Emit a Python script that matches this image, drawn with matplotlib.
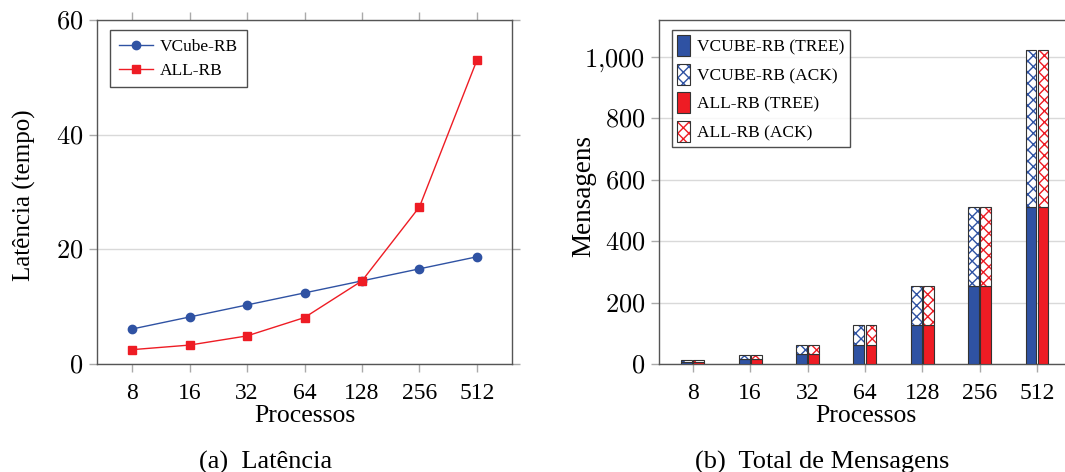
import matplotlib
matplotlib.use("Agg")
import matplotlib.pyplot as plt
import numpy as np
from matplotlib.patches import Patch
from matplotlib.legend_handler import HandlerTuple

plt.rcParams['font.family'] = ['Liberation Serif', 'DejaVu Serif']
plt.rcParams['mathtext.fontset'] = 'cm'

categories = ['8', '16', '32', '64', '128', '256', '512']
vcube_latency = [6.1, 8.2, 10.3, 12.4, 14.5, 16.6, 18.7]
allrb_latency = [2.5, 3.3, 4.9, 8.1, 14.5, 27.4, 53.0]
lat_yticks = [0, 20, 40, 60]

vcube_tree = [7, 15, 31, 63, 127, 255, 511]
vcube_ack = [7, 15, 31, 63, 127, 255, 511]
allrb_tree = [7, 15, 31, 63, 127, 255, 511]
allrb_ack = [7, 15, 31, 63, 127, 255, 511]
msg_yticks = [0, 200, 400, 600, 800, 1000]
msg_ytick_labels = ['0', '200', '400', '600', '800', '1{,}000']

BLUE = '#2f52a3'
RED = '#ee1c24'
SPINE = '#555555'
TICKC = '#aaaaaa'
GRIDC = '#d9d9d9'
EDGE = '#333333'

fig = plt.figure(figsize=(10.65, 4.72), dpi=100)
W, H = 1065, 472

def pos(l, r, t, b):
    return [l / W, (H - b) / H, (r - l) / W, (b - t) / H]

def style_axes(ax, top_right_ticks):
    for s in ax.spines.values():
        s.set_color(SPINE)
        s.set_linewidth(1.0)
    ax.tick_params(which='both', direction='out', length=6, width=1.0,
                   color=TICKC, labelsize=17, pad=4,
                   top=top_right_ticks, right=top_right_ticks,
                   labeltop=False, labelright=False)
    ax.tick_params(axis='x', pad=7.5)
    ax.grid(axis='y', color=GRIDC, linewidth=1.0)
    ax.set_axisbelow(True)

x = np.arange(len(categories))

# ---------- (a) Latency ----------
ax1 = fig.add_axes(pos(97, 512, 20, 364))
style_axes(ax1, True)
ax1.plot(x, vcube_latency, color=BLUE, lw=1.0, marker='o', ms=6,
         markerfacecolor=BLUE, markeredgecolor=BLUE, label='VCube-RB', zorder=3)
ax1.plot(x, allrb_latency, color=RED, lw=1.0, marker='s', ms=6.3,
         markerfacecolor=RED, markeredgecolor=RED, label='ALL-RB', zorder=3)
ax1.set_xlim(-0.61, 6.61)
ax1.set_ylim(0, 60)
ax1.set_xticks(x)
ax1.set_xticklabels(categories)
ax1.set_yticks(lat_yticks)
ax1.set_yticklabels(['$%d$' % v for v in lat_yticks], fontsize=19)
ax1.set_xlabel('Processos', fontsize=18.5, labelpad=1)
ax1.set_ylabel('Latência (tempo)', fontsize=18)
ax1.yaxis.set_label_coords(-0.148, 0.491)
leg1 = ax1.legend(loc='upper left', bbox_to_anchor=(0.031, 0.971), borderaxespad=0,
                  fontsize=12.5, frameon=True, fancybox=False, edgecolor='#222222',
                  handlelength=2.0, borderpad=0.5, labelspacing=0.45,
                  handletextpad=0.4)
leg1.get_frame().set_linewidth(1.0)

# ---------- (b) Messages ----------
ax2 = fig.add_axes(pos(659, 1072, 20, 364))
style_axes(ax2, False)
bw = 0.19
off = 0.105
ax2.bar(x - off, vcube_tree, bw, color=BLUE, edgecolor=EDGE, lw=0.8, zorder=3)
ax2.bar(x - off, vcube_ack, bw, bottom=vcube_tree, color='white', edgecolor=BLUE,
        hatch='xxx', lw=0, zorder=3)
ax2.bar(x - off, vcube_ack, bw, bottom=vcube_tree, fill=False, edgecolor=EDGE,
        lw=0.8, zorder=4)
ax2.bar(x + off, allrb_tree, bw, color=RED, edgecolor=EDGE, lw=0.8, zorder=3)
ax2.bar(x + off, allrb_ack, bw, bottom=allrb_tree, color='white', edgecolor=RED,
        hatch='xxx', lw=0, zorder=3)
ax2.bar(x + off, allrb_ack, bw, bottom=allrb_tree, fill=False, edgecolor=EDGE,
        lw=0.8, zorder=4)
ax2.set_xlim(-0.59, 6.61)
ax2.set_ylim(0, 1120)
ax2.set_xticks(x)
ax2.set_xticklabels(categories)
ax2.set_yticks(msg_yticks)
ax2.set_yticklabels(['$%s$' % s for s in msg_ytick_labels], fontsize=19)
ax2.set_xlabel('Processos', fontsize=18.5, labelpad=1)
ax2.set_ylabel('Mensagens', fontsize=19.5)
ax2.yaxis.set_label_coords(-0.153, 0.488)

def hatch_handle(c):
    return (Patch(facecolor='white', edgecolor=c, hatch='xxx', lw=0),
            Patch(fill=False, edgecolor=EDGE, lw=0.8))

handles = [Patch(facecolor=BLUE, edgecolor=EDGE, lw=0.8),
           hatch_handle(BLUE),
           Patch(facecolor=RED, edgecolor=EDGE, lw=0.8),
           hatch_handle(RED)]
labels = ['VCUBE-RB (TREE)', 'VCUBE-RB (ACK)', 'ALL-RB (TREE)', 'ALL-RB (ACK)']
leg2 = ax2.legend(handles, labels, loc='upper left', bbox_to_anchor=(0.031, 0.971),
                  borderaxespad=0, fontsize=12.5, frameon=True, fancybox=False,
                  edgecolor='#222222', handlelength=0.75, handleheight=1.5,
                  borderpad=0.3, labelspacing=0.42, handletextpad=0.4,
                  handler_map={tuple: HandlerTuple(ndivide=1, pad=0)})
leg2.get_frame().set_linewidth(1.0)

fig.text(266 / W, 1 - 462 / H, '(a)  Latência', ha='center', va='center', fontsize=19)
fig.text(822 / W, 1 - 462 / H, '(b)  Total de Mensagens', ha='center', va='center', fontsize=19)

fig.savefig('out.png', dpi=100)
